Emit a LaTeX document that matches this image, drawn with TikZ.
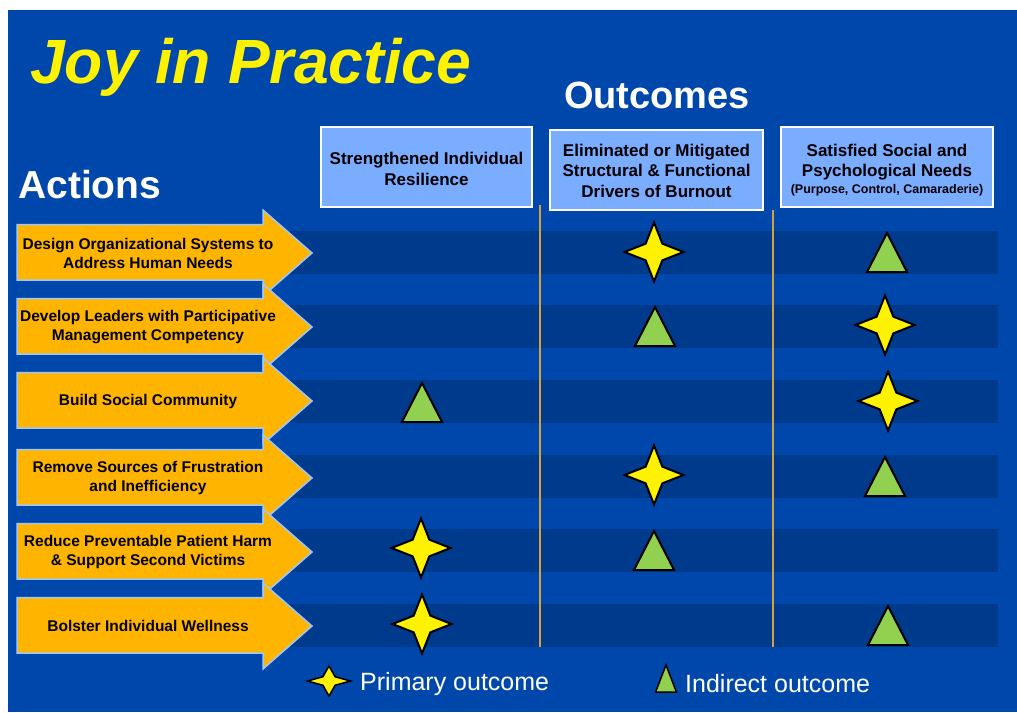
\documentclass[tikz,border=0pt]{standalone}
\usepackage{fontspec}
\setmainfont{Liberation Sans}
\usetikzlibrary{shapes.geometric}
\definecolor{slideblue}{RGB}{0,71,171}
\definecolor{bandblue}{RGB}{0,58,140}
\definecolor{hdrblue}{RGB}{122,172,255}
\definecolor{actorange}{RGB}{255,180,0}
\definecolor{actedge}{RGB}{160,200,245}
\definecolor{rulegold}{RGB}{214,160,60}
\definecolor{trigreen}{RGB}{146,208,80}
\tikzset{
  hdr/.style={draw=white, line width=1.2pt, fill=hdrblue, minimum height=80pt, inner sep=0pt},
  hdrtext/.style={align=center, inner sep=0pt, font=\bfseries\fontsize{17}{20.5}\selectfont},
  actarrow/.style={fill=actorange, draw=actedge, line width=1.5pt},
  acttext/.style={align=center, inner sep=0pt, font=\bfseries\fontsize{15.5}{19}\selectfont},
  prim/.style={star, star points=4, star point ratio=2.5, minimum size=59pt,
    inner sep=0pt, fill=yellow, draw=black, line width=2pt},
  indir/.style={regular polygon, regular polygon sides=3, minimum size=52pt, xscale=0.89,
    inner sep=0pt, fill=trigreen, draw=black, line width=2pt},
  legtext/.style={anchor=base west, inner sep=0pt, text=white, font=\fontsize{25}{25}\selectfont}
}
\begin{document}
\begin{tikzpicture}[x=1pt, y=-1pt]
  \useasboundingbox (0,0) rectangle (1017,712);
  \fill[white] (0,0) rectangle (1017,712);
  \fill[slideblue] (8,10) rectangle (1017,712);
  % titles
  \node[anchor=base west, inner sep=0pt, text=yellow,
    font=\bfseries\itshape\fontsize{62.5}{62}\selectfont] (title) at (30,83) {Joy in Practice};
  \node[anchor=base, inner sep=0pt, text=white,
    font=\bfseries\fontsize{38}{38}\selectfont] (outcomes) at (657,108) {Outcomes};
  \node[anchor=base west, inner sep=0pt, text=white,
    font=\bfseries\fontsize{39}{39}\selectfont] (actions) at (18,198) {Actions};
  % outcome heads
  \node[hdr, minimum width=211pt] (o1) at (426.5,167) {};
  \node[hdr, minimum width=213pt] (o2) at (656.5,170) {};
  \node[hdr, minimum width=212pt] (o3) at (887,167) {};
  \node[hdrtext] (o1t) at (426.5,169) {Strengthened Individual\\Resilience};
  \node[hdrtext] (o2t) at (656.5,170.5) {Eliminated or Mitigated\\Structural \& Functional\\Drivers of Burnout};
  \node[hdrtext] (o3t) at (887,170) {Satisfied Social and\\Psychological Needs\\[-4pt]{\fontsize{12.5}{15}\selectfont(Purpose, Control, Camaraderie)}};
  % rows
  \foreach \y in {252,326,401,476,550,625}
    \fill[bandblue] (290,\y-21.5) rectangle (998,\y+21.5);
  \draw[rulegold, line width=1.2pt] (540,205) -- (540,647);
  \draw[rulegold, line width=1.2pt] (773,210) -- (773,647);
  \foreach \y/\txt [count=\i] in {
      253/{Design Organizational Systems to\\Address Human Needs},
      327/{Develop Leaders with Participative\\Management Competency},
      401/{Build Social Community},
      478/{Remove Sources of Frustration\\and Inefficiency},
      552/{Reduce Preventable Patient Harm\\\& Support Second Victims},
      626/{Bolster Individual Wellness}} {
    \draw[actarrow] (17,\y-28.5) -- (263,\y-28.5) -- (263,\y-43) -- (312,\y)
      -- (263,\y+43) -- (263,\y+27) -- (17,\y+27) -- cycle;
    \node[acttext] (a\i) at (148,\y) {\txt};
  }
  % outcomes per action
  \node[prim] (s1) at (654,252) {};
  \node[indir] (t1) at (887,259) {};
  \node[indir] (t2) at (655,333) {};
  \node[prim] (s2) at (885,325) {};
  \node[indir] (t3) at (422,409) {};
  \node[prim] (s3) at (888,401) {};
  \node[prim] (s4) at (654,475) {};
  \node[indir] (t4) at (885,483) {};
  \node[prim] (s5) at (421,548) {};
  \node[indir] (t5) at (654,557) {};
  \node[prim] (s6) at (422,624) {};
  \node[indir] (t6) at (888,632) {};
  % legend
  \node[prim, minimum size=43pt, yscale=0.7, line width=1.5pt] (lp) at (329,681) {};
  \node[legtext] (lpt) at (360,690) {Primary outcome};
  \node[indir, minimum size=36pt, xscale=0.75, line width=1.5pt] (li) at (666,683) {};
  \node[legtext] (lit) at (685,692) {Indirect outcome};
\end{tikzpicture}
\end{document}
